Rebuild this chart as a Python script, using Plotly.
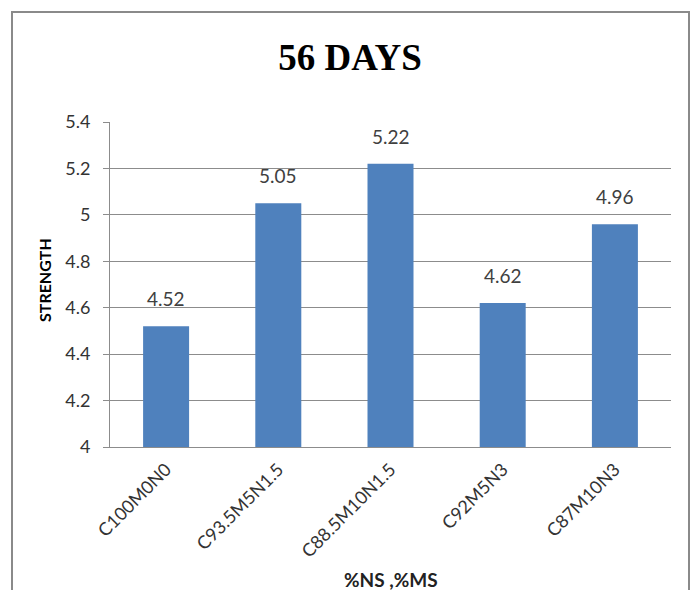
import plotly.graph_objects as go

categories = ["C100M0N0", "C93.5M5N1.5", "C88.5M10N1.5", "C92M5N3", "C87M10N3"]
strength = [4.52, 5.05, 5.22, 4.62, 4.96]
y_ticks = [4, 4.2, 4.4, 4.6, 4.8, 5, 5.2, 5.4]
y_tick_text = ["4", "4.2", "4.4", "4.6", "4.8", "5", "5.2", "5.4"]

BAR = "#4F81BD"
GRID = "#8C8C8C"
FONT = "Lato, 'Open Sans', sans-serif"

W, H = 694, 590
L, R, T, B = 110, 23, 122, 143
PW, PH = W - L - R, H - T - B


def px_x(px):
    return (px - L) / PW


def px_y(py):
    return (H - B - py) / PH


fig = go.Figure()
fig.add_trace(go.Bar(
    x=categories,
    y=strength,
    marker=dict(color=BAR, line=dict(width=0)),
    width=0.41,
    hoverinfo="x+y",
))

# value labels above each bar
for c, v in zip(categories, strength):
    fig.add_annotation(
        x=c, y=v, text=f"{v:g}", showarrow=False,
        yanchor="bottom", yshift=14,
        font=dict(family=FONT, size=19, color="#404040"),
    )

# axis titles
fig.add_annotation(
    xref="paper", yref="paper", x=px_x(44), y=px_y(280),
    text="<b>STRENGTH</b>", textangle=-90, showarrow=False,
    xanchor="center", yanchor="middle",
    font=dict(family=FONT, size=16, color="black"),
)
fig.add_annotation(
    xref="paper", yref="paper", x=px_x(391), y=px_y(579),
    text="<b>%NS ,%MS</b>", showarrow=False,
    xanchor="center", yanchor="middle",
    font=dict(family=FONT, size=19, color="#222222"),
)

# outer chart frame
fig.add_shape(
    type="rect", xref="paper", yref="paper",
    x0=px_x(12), x1=px_x(689), y0=px_y(620), y1=px_y(12),
    line=dict(color="#8A8A8A", width=2), fillcolor="rgba(0,0,0,0)",
    layer="below",
)

fig.update_layout(
    width=W, height=H,
    margin=dict(l=L, r=R, t=T, b=B),
    paper_bgcolor="white", plot_bgcolor="white",
    showlegend=False,
    title=dict(
        text="<b>56 DAYS</b>", x=350 / W, xref="container", xanchor="center",
        y=1 - 57 / H, yanchor="middle",
        font=dict(family="'Liberation Serif', 'Times New Roman', serif", size=37, color="black"),
    ),
    xaxis=dict(
        type="category",
        showgrid=False,
        showline=True, linecolor=GRID, linewidth=1,
        ticks="", tickangle=-45,
        ticklabelstandoff=4,
        tickfont=dict(family=FONT, size=18, color="#333333"),
        fixedrange=True,
    ),
    yaxis=dict(
        range=[4, 5.4],
        tickvals=y_ticks, ticktext=y_tick_text,
        showgrid=True, gridcolor=GRID, gridwidth=1,
        showline=True, linecolor=GRID, linewidth=1,
        ticks="outside", ticklen=6, tickcolor=GRID,
        ticklabelstandoff=9,
        zeroline=False,
        tickfont=dict(family=FONT, size=18, color="#333333"),
        fixedrange=True,
    ),
)

fig.write_html("out.html")
